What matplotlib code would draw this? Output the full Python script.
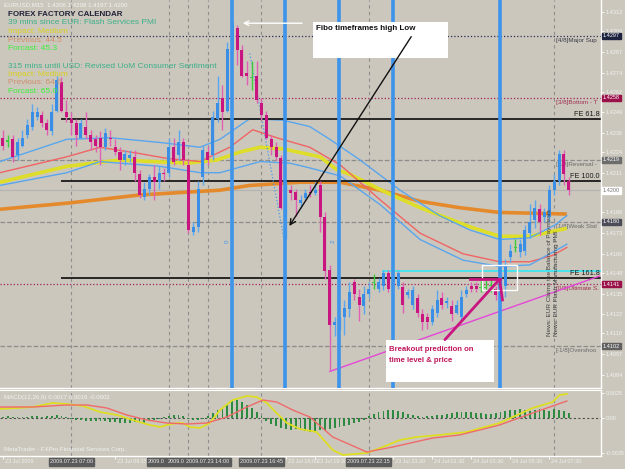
import matplotlib
matplotlib.use('Agg')
import matplotlib.pyplot as plt
from matplotlib.patches import Rectangle

plt.rcParams['font.family'] = ['Liberation Sans', 'DejaVu Sans']

# ---------------- data (EURUSD M15, 2009.07.23 03:30 onwards) ----------------
opens = [1.4233, 1.4231, 1.4232, 1.4222, 1.4228, 1.4235, 1.4240, 1.4246, 1.4247, 1.4242,
         1.4237, 1.4250, 1.4268, 1.4249, 1.4245, 1.4242, 1.4233, 1.4240, 1.4235, 1.4232,
         1.4233, 1.4227, 1.4233, 1.4227, 1.4224, 1.4219, 1.4220, 1.4221, 1.4210, 1.4196,
         1.4201, 1.4208, 1.4205, 1.4211, 1.4211, 1.4227, 1.4222, 1.4230, 1.4216, 1.4174,
         1.4177, 1.4208, 1.4224, 1.4222, 1.4245, 1.4258, 1.4250, 1.4288, 1.4302, 1.4288,
         1.4274, 1.4271, 1.4272, 1.4255, 1.4247, 1.4232, 1.4227, 1.4220, 1.4186, 1.4200,
         1.4199, 1.4192, 1.4195, 1.4199, 1.4198, 1.4203, 1.4183, 1.4150, 1.4115, 1.4115,
         1.4120, 1.4125, 1.4142, 1.4133, 1.4127, 1.4135, 1.4142, 1.4138, 1.4140, 1.4148,
         1.4142, 1.4140, 1.4139, 1.4134, 1.4128, 1.4132, 1.4122, 1.4120, 1.4117, 1.4123,
         1.4132, 1.4129, 1.4127, 1.4123, 1.4120, 1.4135, 1.4140, 1.4140, 1.4139, 1.4139,
         1.4140, 1.4138, 1.4135, 1.4140, 1.4158, 1.4164, 1.4161, 1.4162, 1.4173, 1.4181,
         1.4188, 1.4183, 1.4183, 1.4200, 1.4206, 1.4223, 1.4206]
highs = [1.4238, 1.4235, 1.4235, 1.4233, 1.4238, 1.4245, 1.4254, 1.4252, 1.4250, 1.4245,
         1.4254, 1.4272, 1.4271, 1.4257, 1.4249, 1.4245, 1.4245, 1.4249, 1.4238, 1.4235,
         1.4237, 1.4239, 1.4238, 1.4232, 1.4227, 1.4225, 1.4225, 1.4225, 1.4213, 1.4205,
         1.4210, 1.4216, 1.4215, 1.4214, 1.4233, 1.4233, 1.4238, 1.4233, 1.4219, 1.4180,
         1.4206, 1.4228, 1.4228, 1.4250, 1.4272, 1.4266, 1.4293, 1.4307, 1.4304, 1.4291,
         1.4281, 1.4281, 1.4281, 1.4258, 1.4250, 1.4235, 1.4230, 1.4222, 1.4205, 1.4203,
         1.4201, 1.4197, 1.4201, 1.4203, 1.4205, 1.4206, 1.4186, 1.4153, 1.4120, 1.4120,
         1.4131, 1.4142, 1.4144, 1.4138, 1.4140, 1.4142, 1.4147, 1.4145, 1.4150, 1.4150,
         1.4148, 1.4150, 1.4142, 1.4138, 1.4140, 1.4135, 1.4125, 1.4123, 1.4128, 1.4137,
         1.4136, 1.4133, 1.4131, 1.4131, 1.4137, 1.4140, 1.4142, 1.4142, 1.4144, 1.4144,
         1.4144, 1.4140, 1.4147, 1.4157, 1.4166, 1.4169, 1.4169, 1.4178, 1.4191, 1.4194,
         1.4191, 1.4189, 1.4203, 1.4210, 1.4225, 1.4225, 1.4208]
lows = [1.4225, 1.4227, 1.4218, 1.4219, 1.4227, 1.4233, 1.4238, 1.4244, 1.4240, 1.4235,
        1.4235, 1.4249, 1.4249, 1.4243, 1.4235, 1.4228, 1.4232, 1.4232, 1.4225, 1.4224,
        1.4216, 1.4225, 1.4228, 1.4222, 1.4213, 1.4216, 1.4218, 1.4206, 1.4195, 1.4194,
        1.4197, 1.4194, 1.4201, 1.4206, 1.4208, 1.4216, 1.4219, 1.4216, 1.4173, 1.4172,
        1.4174, 1.4203, 1.4216, 1.4219, 1.4243, 1.4238, 1.4249, 1.4285, 1.4279, 1.4271,
        1.4266, 1.4263, 1.4255, 1.4244, 1.4232, 1.4222, 1.4219, 1.4188, 1.4169, 1.4194,
        1.4184, 1.4189, 1.4194, 1.4196, 1.4197, 1.4174, 1.4144, 1.4087, 1.4108, 1.4112,
        1.4109, 1.4120, 1.4131, 1.4118, 1.4122, 1.4132, 1.4138, 1.4136, 1.4137, 1.4136,
        1.4138, 1.4138, 1.4123, 1.4132, 1.4125, 1.4120, 1.4112, 1.4113, 1.4115, 1.4120,
        1.4125, 1.4126, 1.4118, 1.4122, 1.4118, 1.4133, 1.4136, 1.4136, 1.4136, 1.4136,
        1.4136, 1.4131, 1.4133, 1.4133, 1.4155, 1.4161, 1.4158, 1.4159, 1.4170, 1.4176,
        1.4172, 1.4180, 1.4180, 1.4197, 1.4203, 1.4203, 1.4197]
closes = [1.4228, 1.4231, 1.4221, 1.4230, 1.4233, 1.4241, 1.4249, 1.4249, 1.4242, 1.4238,
          1.4249, 1.4269, 1.4250, 1.4246, 1.4242, 1.4235, 1.4242, 1.4235, 1.4230, 1.4228,
          1.4227, 1.4236, 1.4232, 1.4224, 1.4219, 1.4223, 1.4222, 1.4211, 1.4197, 1.4201,
          1.4208, 1.4205, 1.4211, 1.4210, 1.4227, 1.4218, 1.4230, 1.4219, 1.4175, 1.4177,
          1.4201, 1.4225, 1.4219, 1.4246, 1.4255, 1.4249, 1.4289, 1.4305, 1.4288, 1.4272,
          1.4272, 1.4271, 1.4257, 1.4247, 1.4233, 1.4227, 1.4221, 1.4189, 1.4202, 1.4198,
          1.4194, 1.4194, 1.4198, 1.4198, 1.4200, 1.4183, 1.4149, 1.4115, 1.4117, 1.4117,
          1.4126, 1.4136, 1.4135, 1.4128, 1.4135, 1.4138, 1.4142, 1.4142, 1.4148, 1.4138,
          1.4145, 1.4148, 1.4128, 1.4136, 1.4137, 1.4123, 1.4117, 1.4117, 1.4125, 1.4131,
          1.4128, 1.4130, 1.4122, 1.4128, 1.4133, 1.4137, 1.4138, 1.4138, 1.4139, 1.4139,
          1.4140, 1.4134, 1.4144, 1.4153, 1.4162, 1.4164, 1.4166, 1.4175, 1.4180, 1.4189,
          1.4180, 1.4186, 1.4200, 1.4206, 1.4223, 1.4210, 1.4200]

# indicator lines (bar index, value)
orange_x = [-0.6, 13.7, 28.1, 44.5, 50.6, 60.9, 69.1, 77.3, 85.5, 93.6, 101.8, 115.6]
orange_y = [1.4188, 1.4192, 1.4197, 1.4200, 1.4203, 1.4205, 1.4205, 1.4200, 1.4193, 1.4189, 1.4186, 1.4185]
yellow_x = [-0.6, 13.1, 24.0, 37.7, 43.9, 48.6, 52.7, 57.4, 65.0, 68.4, 71.1, 78.3, 85.5, 95.7, 101.8, 108.0, 115.6]
yellow_y = [1.4205, 1.4215, 1.4219, 1.4217, 1.4219, 1.4224, 1.4227, 1.4226, 1.4221, 1.4213, 1.4210, 1.4199,
            1.4189, 1.4177, 1.4171, 1.4171, 1.4176]
red_x = [-0.6, 13.1, 19.9, 28.1, 33.6, 40.4, 46.5, 51.2, 56.1, 62.9, 69.1, 77.3, 85.5, 94.3, 101.8, 108.0, 112.7, 115.6]
red_y = [1.4211, 1.4221, 1.4227, 1.4223, 1.4220, 1.4218, 1.4227, 1.4238, 1.4233, 1.4227, 1.4216, 1.4194,
         1.4173, 1.4160, 1.4155, 1.4155, 1.4159, 1.4164]
upper_x = [-0.6, 13.1, 21.9, 32.2, 40.4, 44.5, 50.6, 57.4, 62.9, 67.0, 73.2, 81.4, 89.5, 95.7, 101.8, 108.0, 113.1, 115.6]
upper_y = [1.4218, 1.4232, 1.4233, 1.4230, 1.4227, 1.4232, 1.4245, 1.4244, 1.4240, 1.4232, 1.4219, 1.4200,
           1.4184, 1.4175, 1.4169, 1.4170, 1.4178, 1.4184]
lower_x = [-0.6, 13.1, 19.9, 32.2, 40.4, 44.5, 52.7, 58.8, 62.9, 69.1, 77.3, 85.5, 94.3, 101.8, 108.0, 112.7, 115.6]
lower_y = [1.4203, 1.4211, 1.4218, 1.4215, 1.4211, 1.4211, 1.4218, 1.4217, 1.4214, 1.4209, 1.4191, 1.4169,
           1.4156, 1.4152, 1.4153, 1.4161, 1.4166]

# MACD panel
macd_hist = [0.0001, 0.0002, 0.0001, 0.0001, 0.0001, 0.0001, 0.0002, 0.0002, 0.0001, 0.0002,
             0.0002, 0.0003, 0.0002, 0.0001, -0.0001, -0.0002, -0.0002, -0.0003, -0.0003, -0.0003,
             -0.0003, -0.0003, -0.0004, -0.0004, -0.0005, -0.0005, -0.0005, -0.0004, -0.0005, -0.0005,
             -0.0003, -0.0002, -0.0001, 0.0001, 0.0002, 0.0003, 0.0003, 0.0002, -0.0001, -0.0002,
             -0.0002, -0.0001, 0.0002, 0.0005, 0.0008, 0.0011, 0.0014, 0.0017, 0.0018, 0.0016,
             0.0013, 0.0010, 0.0006, 0.0002, -0.0003, -0.0006, -0.0008, -0.0010, -0.0011, -0.0012,
             -0.0011, -0.0012, -0.0013, -0.0014, -0.0013, -0.0012, -0.0012, -0.0011, -0.0010, -0.0009,
             -0.0008, -0.0007, -0.0005, -0.0004, -0.0002, 0.0002, 0.0004, 0.0006, 0.0007, 0.0008,
             0.0008, 0.0007, 0.0006, 0.0004, 0.0003, 0.0002, 0.0001, 0.0002, 0.0002, 0.0003,
             0.0003, 0.0004, 0.0005, 0.0006, 0.0006, 0.0006, 0.0006, 0.0005, 0.0005, 0.0004,
             0.0004, 0.0005, 0.0006, 0.0007, 0.0008, 0.0008, 0.0009, 0.0008, 0.0007, 0.0008,
             0.0009, 0.0008, 0.0007, 0.0009, 0.0008, 0.0007, 0.0005]
macd_x = [-0.6, 2.9, 6.1, 10.2, 13.1, 16.4, 19.9, 23.4, 26.6, 30.1, 32.2, 33.6, 35.7, 36.9, 38.3, 40.4, 42.4,
          44.5, 47.1, 50.0, 52.0, 54.1, 56.1, 58.2, 60.9, 64.3, 67.6, 69.7, 74.6, 77.9, 81.4, 84.8, 89.5,
          95.1, 101.8, 108.6, 112.7, 114.1, 115.6]
macd_y = [0.0009, 0.0010, 0.0011, 0.0015, 0.0014, 0.0012, 0.0006, 0.0003, -0.0002, -0.0007, -0.0009, -0.0007,
          -0.0005, -0.0005, -0.0009, -0.0010, -0.0005, 0.0008, 0.0018, 0.0022, 0.0021, 0.0015, 0.0005, -0.0005,
          -0.0011, -0.0014, -0.0032, -0.0037, -0.0035, -0.0029, -0.0022, -0.0019, -0.0017, -0.0014, -0.0005,
          0.0010, 0.0016, 0.0023, 0.0024]
signal_x = [-0.6, 6.1, 13.1, 17.2, 21.3, 25.4, 29.5, 33.6, 37.7, 41.8, 45.9, 50.0, 53.3, 56.1, 59.4, 62.9,
            67.6, 74.6, 79.9, 88.1, 93.6, 101.8, 108.6, 115.6]
signal_y = [0.0011, 0.0011, 0.0013, 0.0013, 0.0010, 0.0003, -0.0002, -0.0005, -0.0006, -0.0005, 0.0001, 0.0011,
            0.0018, 0.0016, 0.0008, 0.0001, -0.0019, -0.0034, -0.0029, -0.0020, -0.0017, -0.0007, 0.0005, 0.0017]

# levels and drawings
murrey_levels = [1.4297, 1.4258, 1.4219, 1.4180, 1.4141, 1.4102]
murrey_names = ['[4/8]Major Sup', '[3/8]Bottom - T', '[2/8]Reversal - ', '[1/8]Weak Stal',
                '[0/8]Ultimate S.', '[-1/8]Overshoo']
murrey_line_colors = ['#2c2c5a', '#a0205a', '#8c8c8c', '#8c8c8c', '#a0205a', '#8c8c8c']
murrey_text_colors = ['#3a3a4a', '#a03050', '#6a6a6a', '#6a6a6a', '#a03050', '#6a6a6a']
murrey_box_colors = ['#1e2440', '#9a1048', '#6c6c6c', '#4c4c58', '#9a1048', '#606060']
fe_levels = [1.4245, 1.4206, 1.4145]
fe_labels = ['FE 61.8', 'FE 100.0', 'FE 161.8']
fe_start = 11.9
cyan_level = 1.4149
cyan_start = 77.7
blue_vlines = [46.9, 57.8, 68.9, 79.9, 101.8]
time_vlines = [14, 34, 38, 42, 53, 75, 113]
# bottom boxes: the 12:00 / 13:00 boxes are mostly hidden behind the 14:00 one
time_vline_labels = ['2009.07.23 07:00', '2009.0', '2009.0', '2009.07.23 14:00',
                     '2009.07.23 16:45', '2009.07.23 22:15', None]
time_vline_full = [True, False, False, True, True, True, True]
time_ticks = [0, 23, 58, 64, 80, 88, 96, 104, 112]
time_tick_labels = ['23 Jul 2009', '23 Jul 09:15', '23 Jul 18:00', '23 Jul 19:30', '23 Jul 23:30',
                    '24 Jul 01:30', '24 Jul 03:30', '24 Jul 05:30', '24 Jul 07:30']
price_ticks = [1.4084, 1.4097, 1.4110, 1.4122, 1.4135, 1.4148, 1.4160, 1.4173, 1.4186, 1.4198,
               1.4211, 1.4224, 1.4236, 1.4249, 1.4262, 1.4274, 1.4287, 1.4300, 1.4312]
macd_ticks = [-0.0035, 0.0, 0.0025]
macd_tick_labels = ['-0.0035', '0.00', '0.0025']

BG = '#cbc7bc'
BULL = '#3a8ee6'
BEAR = '#c8157f'
DOJI = '#3ccc3c'

fig = plt.figure(figsize=(6.25, 4.69), dpi=100)
fig.patch.set_facecolor(BG)
ax = fig.add_axes([0, 81 / 469, 601 / 625, 388 / 469])
axm = fig.add_axes([0, 13 / 469, 601 / 625, 66 / 469])
for a in (ax, axm):
    a.set_facecolor(BG)
    for s in ('top', 'left'):
        a.spines[s].set_visible(False)
    for s in ('right', 'bottom'):
        a.spines[s].set_color('white')
        a.spines[s].set_linewidth(1)
axm.spines['top'].set_visible(True)
axm.spines['top'].set_color('white')

XMIN, XMAX = -0.6, 122.6
ax.set_xlim(XMIN, XMAX)
ax.set_ylim(1.40756, 1.43196)
axm.set_xlim(XMIN, XMAX)
axm.set_ylim(-0.0038, 0.0028)


def axpt(px, py):
    return px / 601.0, 1 - py / 388.0


# Murrey lines
styles = [':', ':', '--', '--', ':', '--']
for lvl, nm, lc, tc, ls in zip(murrey_levels, murrey_names, murrey_line_colors, murrey_text_colors, styles):
    ax.axhline(lvl, color=lc, lw=0.9, ls=ls, zorder=1)
    ax.text(113.3, lvl - 0.00012, nm, color=tc, fontsize=4.5, va='top', ha='left', zorder=2)

# time vertical grid lines
for xv in time_vlines:
    ax.axvline(xv, color='#8e8e8e', lw=0.8, ls=(0, (3, 3)), zorder=1)
    axm.axvline(xv, color='#8e8e8e', lw=0.8, ls=(0, (3, 3)), zorder=1)

# bid line
ax.axhline(closes[-1], color='#b4b4b4', lw=0.9, zorder=1)

# indicator lines
ax.plot(orange_x, orange_y, color='#e58a2c', lw=2.6, zorder=2, solid_capstyle='butt')
ax.plot(yellow_x, yellow_y, color='#dede2a', lw=2.6, zorder=2, solid_capstyle='butt')
ax.plot(red_x, red_y, color='#f06464', lw=1.0, zorder=2)
ax.plot(upper_x, upper_y, color='#5aa6ee', lw=1.0, zorder=2)
ax.plot(lower_x, lower_y, color='#5aa6ee', lw=1.0, zorder=2)

# FE lines
for lvl, lab in zip(fe_levels, fe_labels):
    ax.hlines(lvl, fe_start, XMAX, color='#1a1a1a', lw=1.3, zorder=2)
    ax.text(XMAX - 0.3, lvl + 0.00007, lab, color='#1a1a1a', fontsize=5.2, ha='right', va='bottom', zorder=6)
ax.hlines(cyan_level, cyan_start, XMAX, color='#3ee6f0', lw=1.3, zorder=3)

# pink trend line and blue dotted fibo line
ax.plot([67.0, 122.3], [1.4086, 1.4146], color='#e448d8', lw=1.0, zorder=3)
ax.plot([50.6, 57.8], [1.4286, 1.4166], color='#4a9ae8', lw=0.9, ls=':', zorder=3)

# candles
for i, (o, h, l, c) in enumerate(zip(opens, highs, lows, closes)):
    if abs(c - o) < 1e-6:
        col, wc = DOJI, DOJI
    elif c > o:
        col, wc = BULL, '#5aa8f0'
    else:
        col, wc = BEAR, '#e060b4'
    ax.vlines(i, l, h, color=wc, lw=1.0, zorder=4)
    body = max(abs(c - o), 0.00008)
    bottom = min(o, c) if abs(c - o) >= 0.00008 else (o + c) / 2 - 0.00004
    ax.bar(i, body, bottom=bottom, width=0.62, color=col, linewidth=0, zorder=5)

# blue vertical lines
for xv in blue_vlines:
    ax.axvline(xv, color='#3d94ea', lw=2.6, zorder=6)
ax.text(45.9, 1.4168, '0', color='#3d94ea', fontsize=4.5, rotation=90, ha='center', va='center', zorder=6)
ax.text(67.6, 1.4168, '2', color='#3d94ea', fontsize=4.5, rotation=90, ha='center', va='center', zorder=6)

# news text (rotated)
ax.text(112.1, 1.4108, 'News: EUR Claims the Balance of Payments', color='#404040', fontsize=4.6,
        rotation=90, ha='center', va='bottom', zorder=6)
ax.text(113.4, 1.4108, 'News: EUR Flash Manufacturing PMI', color='#404040', fontsize=4.6,
        rotation=90, ha='center', va='bottom', zorder=6)

# white rectangle around breakout zone
ax.add_patch(Rectangle((98.2, 1.4137), 7.1, 0.0016, fill=False, ec='white', lw=1.0, zorder=7))

# Fibo box
x0, y0 = axpt(313, 58)
x1, y1 = axpt(448, 22)
ax.add_patch(Rectangle((x0, y0), x1 - x0, y1 - y0, transform=ax.transAxes, fc='white', ec='none', zorder=8))
tx, ty = axpt(316, 28)
ax.text(tx, ty, 'Fibo timeframes high Low', transform=ax.transAxes, fontsize=5.8, fontweight='bold',
        color='#111111', va='center', ha='left', zorder=9)
ax.annotate('', xy=(58.4, 1.4176), xytext=(84.0, 1.4298),
            arrowprops=dict(arrowstyle='->', color='#111111', lw=1.0, mutation_scale=10), zorder=9)
ax.annotate('', xy=(48.6, 1.4305), xytext=(61.9, 1.4305),
            arrowprops=dict(arrowstyle='->', color='white', lw=1.0, mutation_scale=8), zorder=9)

# Breakout box
x0, y0 = axpt(386, 382)
x1, y1 = axpt(494, 340)
ax.add_patch(Rectangle((x0, y0), x1 - x0, y1 - y0, transform=ax.transAxes, fc='white', ec='none', zorder=8))
tx, ty = axpt(389, 349)
ax.text(tx, ty, 'Breakout prediction on', transform=ax.transAxes, fontsize=5.6, fontweight='bold',
        color='#c0185a', va='center', ha='left', zorder=9)
tx, ty = axpt(389, 360)
ax.text(tx, ty, 'time level & price', transform=ax.transAxes, fontsize=5.6, fontweight='bold',
        color='#c0185a', va='center', ha='left', zorder=9)
ax.plot([90.6, 101.8], [1.4106, 1.4144], color='#c8157f', lw=2.0, zorder=9, solid_capstyle='round')
ax.plot([95.7, 101.8], [1.4144, 1.4144], color='#c8157f', lw=2.0, zorder=9)
ax.plot([101.8, 102.4], [1.4144, 1.4131], color='#c8157f', lw=2.0, zorder=9)

# right price axis
ax.yaxis.tick_right()
ax.set_yticks(price_ticks)
ax.set_yticklabels(['%.4f' % t for t in price_ticks])
ax.tick_params(axis='y', labelsize=4.0, labelcolor='#f2f2f2', color='white', length=2, pad=1.2, width=0.6)
ax.set_xticks([])

box_vals = murrey_levels + [closes[-1]]
box_fc = murrey_box_colors + ['white']
box_tc = ['white'] * 6 + ['#777777']
for v, fc, tc in zip(box_vals, box_fc, box_tc):
    ax.annotate('%.4f' % v, xy=(1, v), xycoords=('axes fraction', 'data'), xytext=(1.4, 0),
                textcoords='offset points', fontsize=4.0, color=tc, va='center', ha='left',
                bbox=dict(boxstyle='square,pad=0.15', fc=fc, ec=fc), annotation_clip=False, zorder=10)

# MACD panel
axm.bar(range(len(macd_hist)), macd_hist, width=0.38, color='#2e8a40', linewidth=0, zorder=3)
axm.axhline(0, color='#505050', lw=0.8, ls=(0, (2, 2)), zorder=2)
axm.plot(macd_x, macd_y, color='#dede22', lw=1.3, zorder=4)
axm.plot(signal_x, signal_y, color='#f06a6a', lw=1.0, zorder=4)
axm.yaxis.tick_right()
axm.set_yticks(macd_ticks)
axm.set_yticklabels(macd_tick_labels)
axm.tick_params(axis='y', labelsize=4.0, labelcolor='#f2f2f2', color='white', length=2, pad=1.2, width=0.6)
axm.set_xticks(time_ticks)
axm.set_xticklabels([])
axm.tick_params(axis='x', color='white', length=2, width=0.6)
axm.text(0.006, 0.93, 'MACD(12,26,9) 0.0017 0.0019 -0.0002', transform=axm.transAxes, fontsize=4.4,
         color='#f2f2f2', va='top', ha='left')
axm.text(0.006, 0.06, 'MetaTrader - FXPro Financial Services Corp.', transform=axm.transAxes, fontsize=4.4,
         color='#f2f2f2', va='bottom', ha='left')

for t, lab in zip(time_ticks, time_tick_labels):
    axm.annotate(lab, xy=(t, 0), xycoords=('data', 'axes fraction'), xytext=(1.2, -2.5),
                 textcoords='offset points', fontsize=4.0, color='#f0f0f0', ha='left', va='top',
                 annotation_clip=False)
for t, lab, full in zip(time_vlines, time_vline_labels, time_vline_full):
    if lab is None:
        continue
    if full:
        xt, ha = 0, 'center'
    else:
        xt, ha = -15.0, 'left'
    axm.annotate(lab, xy=(t, 0), xycoords=('data', 'axes fraction'), xytext=(xt, -2.5),
                 textcoords='offset points', fontsize=4.0, color='#e8e8e8', ha=ha, va='top',
                 bbox=dict(boxstyle='square,pad=0.2', fc='#5a5a5a', ec='#5a5a5a'),
                 annotation_clip=False, zorder=10)


# calendar text
def ftxt(px, py, s, color, size=6.0, weight='normal'):
    fig.text(px / 625, 1 - py / 469, s, color=color, fontsize=size, fontweight=weight, va='center', ha='left')


ftxt(4, 5, 'EURUSD,M15  1.4206 1.4208 1.4197 1.4200', '#f4f4f4', 4.4)
ftxt(8, 14, 'FOREX FACTORY CALENDAR', '#22223a', 5.8, 'bold')
ftxt(8, 23, '39 mins since EUR: Flash Services PMI', '#3cb08a')
ftxt(8, 31.5, 'Impact: Medium', '#d8d020')
ftxt(8, 40, 'Previous: 44.5', '#cf8f6c')
ftxt(8, 48.5, 'Forcast: 45.3', '#3cf03c')
ftxt(8, 66, '315 mins until USD: Revised UoM Consumer Sentiment', '#3cb08a')
ftxt(8, 74.5, 'Impact: Medium', '#d8d020')
ftxt(8, 83, 'Previous: 64.6', '#cf8f6c')
ftxt(8, 91.5, 'Forcast: 65.0', '#3cf03c')

fig.savefig('out.png', dpi=100, facecolor=BG)
